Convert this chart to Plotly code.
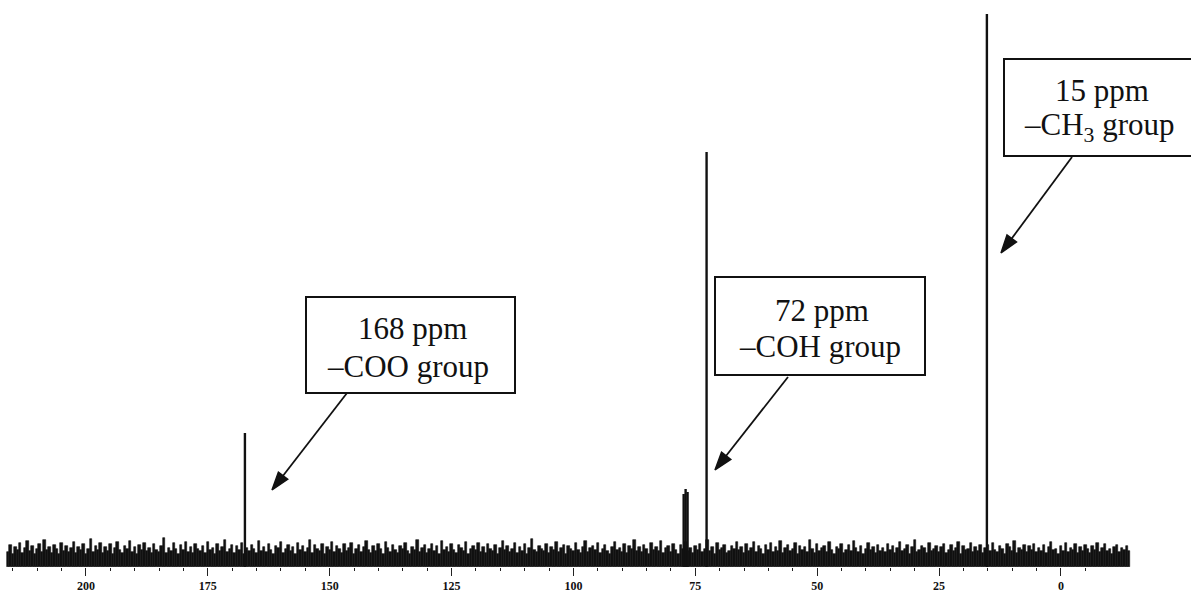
import plotly.graph_objects as go

# ---------------- data ----------------
# baseline noise of the 13C spectrum, sampled every 0.5 ppm from 216 ppm down to -14 ppm
noise_start_ppm = 216.0
noise_step_ppm = 0.5
noise_values = [
    10, 17, 8, 15, 12, 19, 9, 14, 21, 11, 16, 8, 13, 18, 10, 22, 12, 15, 9, 17,
    13, 8, 19, 11, 16, 10, 14, 20, 9, 15, 12, 18, 8, 13, 23, 10, 16, 12, 19, 9,
    15, 11, 18, 8, 14, 20, 12, 9, 16, 13, 21, 10, 15, 8, 17, 12, 19, 11, 14, 9,
    18, 12, 10, 16, 24, 9, 14, 11, 19, 13, 8, 17, 12, 20, 10, 15, 9, 18, 13, 11,
    16, 9, 20, 12, 14, 8, 18, 11, 15, 22, 10, 13, 17, 9, 16, 12, 19, 8, 14, 11,
    17, 13, 9, 21, 11, 15, 10, 18, 12, 8, 16, 14, 20, 9, 13, 17, 11, 15, 8, 19,
    12, 16, 10, 14, 22, 9, 17, 13, 11, 18, 8, 15, 12, 20, 10, 16, 13, 9, 18, 11,
    14, 19, 8, 13, 17, 10, 15, 21, 12, 9, 16, 11, 18, 13, 8, 20, 14, 10, 17, 12,
    9, 16, 13, 19, 11, 8, 15, 12, 22, 10, 14, 17, 9, 13, 18, 11, 16, 8, 21, 12,
    15, 10, 18, 12, 9, 17, 14, 11, 20, 8, 13, 16, 12, 19, 10, 15, 9, 18, 13, 11,
    17, 8, 14, 21, 12, 16, 10, 13, 19, 9, 15, 11, 18, 8, 14, 23, 12, 10, 16, 13,
    11, 18, 9, 15, 12, 20, 10, 14, 17, 8, 16, 13, 11, 19, 12, 9, 15, 21, 10, 14,
    16, 12, 19, 9, 13, 17, 11, 8, 15, 20, 12, 14, 10, 18, 9, 16, 13, 22, 11, 15,
    10, 17, 13, 8, 19, 12, 15, 11, 21, 9, 14, 16, 10, 18, 12, 8, 17, 13, 20, 11,
    14, 9, 16, 12, 18, 10, 13, 22, 11, 15, 8, 19, 12, 14, 17, 9, 11, 16, 13, 20,
    12, 15, 9, 18, 11, 14, 20, 10, 16, 13, 8, 17, 12, 19, 10, 15, 11, 21, 9, 14,
    17, 11, 13, 19, 8, 16, 12, 15, 10, 22, 13, 9, 18, 11, 14, 16, 10, 20, 12, 8,
    15, 13, 18, 9, 12, 17, 11, 21, 14, 10, 16, 8, 13, 19, 12, 15, 9, 17, 11, 14,
    10, 18, 12, 16, 9, 14, 20, 11, 13, 17, 8, 15, 22, 10, 12, 16, 14, 9, 19, 11,
    13, 16, 10, 15, 18, 9, 12, 17, 11, 14, 20, 8, 16, 12, 13, 19, 10, 15, 11, 17,
    9, 14, 17, 11, 19, 12, 10, 16, 13, 8, 18, 15, 11, 21, 9, 14, 12, 17, 10, 16,
    12, 18, 10, 14, 11, 17, 9, 15, 20, 12, 13, 8, 16, 11, 19, 10, 14, 12, 18, 9,
    15, 11, 17, 13, 9, 16, 12, 19, 10, 14, 18, 11, 13, 8, 15, 17, 10, 14, 12, 16,
    11,
]

# resonance lines (ppm, intensity above baseline)
peak_ppm = [167.4, 77.4, 77.0, 76.6, 72.7, 15.2]
peak_height = [129, 68, 73, 70, 410, 548]

major_ticks = [200, 175, 150, 125, 100, 75, 50, 25, 0]
major_labels = ["200", "175", "150", "125", "100", "75", "50", "25", "0"]
minor_ticks = [215, 210, 205, 195, 190, 185, 180, 170, 165, 160, 155, 145, 140, 135,
               130, 120, 115, 110, 105, 95, 90, 85, 80, 70, 65, 60, 55, 45, 40, 35,
               30, 20, 15, 10, 5, -5]

label_line1 = ["168 ppm", "72 ppm", "15 ppm"]
label_line2 = ["\u2013COO group", "\u2013COH group", "\u2013CH<sub>3</sub> group"]

# ---------------- figure ----------------
W, H = 1191, 597
MT, MB = 0, 30
PH = H - MT - MB
Y0 = -5                       # plot bottom sits a few units below the spectrum baseline
X_RANGE = [217.64, -26.67]
INK = "#111111"
serif = "Liberation Serif, Times New Roman, serif"

noise_x = [noise_start_ppm - i * noise_step_ppm for i in range(len(noise_values))]

fig = go.Figure()
fig.add_trace(go.Bar(
    x=noise_x, y=[v - Y0 for v in noise_values], base=Y0, width=noise_step_ppm,
    marker=dict(color=INK, line=dict(color=INK, width=0.6)),
    hoverinfo="skip", showlegend=False,
))

px_, py_ = [], []
for p, h in zip(peak_ppm, peak_height):
    px_ += [p, p, None]
    py_ += [Y0, h, None]
fig.add_trace(go.Scatter(
    x=px_, y=py_, mode="lines",
    line=dict(color=INK, width=2.4),
    hoverinfo="skip", showlegend=False,
))


def fx(px):
    return px / W


def fy(py):
    return (H - MB - py) / PH


def dx(px):  # pixel -> ppm (for annotation arrows only)
    return X_RANGE[0] + (X_RANGE[1] - X_RANGE[0]) * px / W


def dy(py):
    return Y0 + PH - py


# label boxes, text and arrows (pixel layout)
boxes = [(306, 297, 515, 393), (715, 277, 925, 375), (1004, 59, 1240, 156)]
line1_pos = [(412, 328), (822, 310), (1102, 90)]
line2_pos = [(408, 366), (820, 346), (1099, 127)]
arrows = [((272, 490), (347, 393)), ((715, 470), (788, 377)), ((1001, 253), (1072, 157))]

shapes = []
annotations = []
for i in range(3):
    x0, y0, x1, y1 = boxes[i]
    shapes.append(dict(type="rect", xref="paper", yref="paper",
                       x0=fx(x0), x1=fx(x1), y0=fy(y1), y1=fy(y0),
                       line=dict(color=INK, width=2), fillcolor="white", layer="above"))
    annotations.append(dict(xref="paper", yref="paper", x=fx(line1_pos[i][0]), y=fy(line1_pos[i][1]),
                            text=label_line1[i], showarrow=False, xanchor="center", yanchor="middle",
                            font=dict(family=serif, size=31, color=INK)))
    annotations.append(dict(xref="paper", yref="paper", x=fx(line2_pos[i][0]), y=fy(line2_pos[i][1]),
                            text=label_line2[i], showarrow=False, xanchor="center", yanchor="middle",
                            font=dict(family=serif, size=31, color=INK)))
    (tx, ty), (sx, sy) = arrows[i]
    fig.add_trace(go.Scatter(
        x=[dx(sx), dx(tx)], y=[dy(sy), dy(ty)], mode="lines+markers",
        line=dict(color=INK, width=1.8),
        marker=dict(symbol="arrow", size=[0, 19], color=INK, angleref="previous",
                    opacity=1, line=dict(width=1.5, color=INK)),
        hoverinfo="skip", showlegend=False, cliponaxis=False,
    ))

fig.update_layout(
    width=W, height=H,
    margin=dict(l=0, r=0, t=MT, b=MB, pad=0),
    paper_bgcolor="white", plot_bgcolor="white",
    showlegend=False, bargap=0,
    shapes=shapes, annotations=annotations,
    xaxis=dict(
        range=X_RANGE, showgrid=False, zeroline=False, showline=False,
        tickmode="array", tickvals=major_ticks, ticktext=major_labels,
        ticks="outside", ticklen=8, tickwidth=1, tickcolor="#222222",
        tickfont=dict(family=serif, size=12, color=INK, weight="bold"),
        minor=dict(tickvals=minor_ticks, ticks="outside", ticklen=3, tickwidth=1, tickcolor="#222222"),
        fixedrange=True,
    ),
    yaxis=dict(range=[Y0, Y0 + PH], visible=False, fixedrange=True),
)

fig.write_html("out.html")
